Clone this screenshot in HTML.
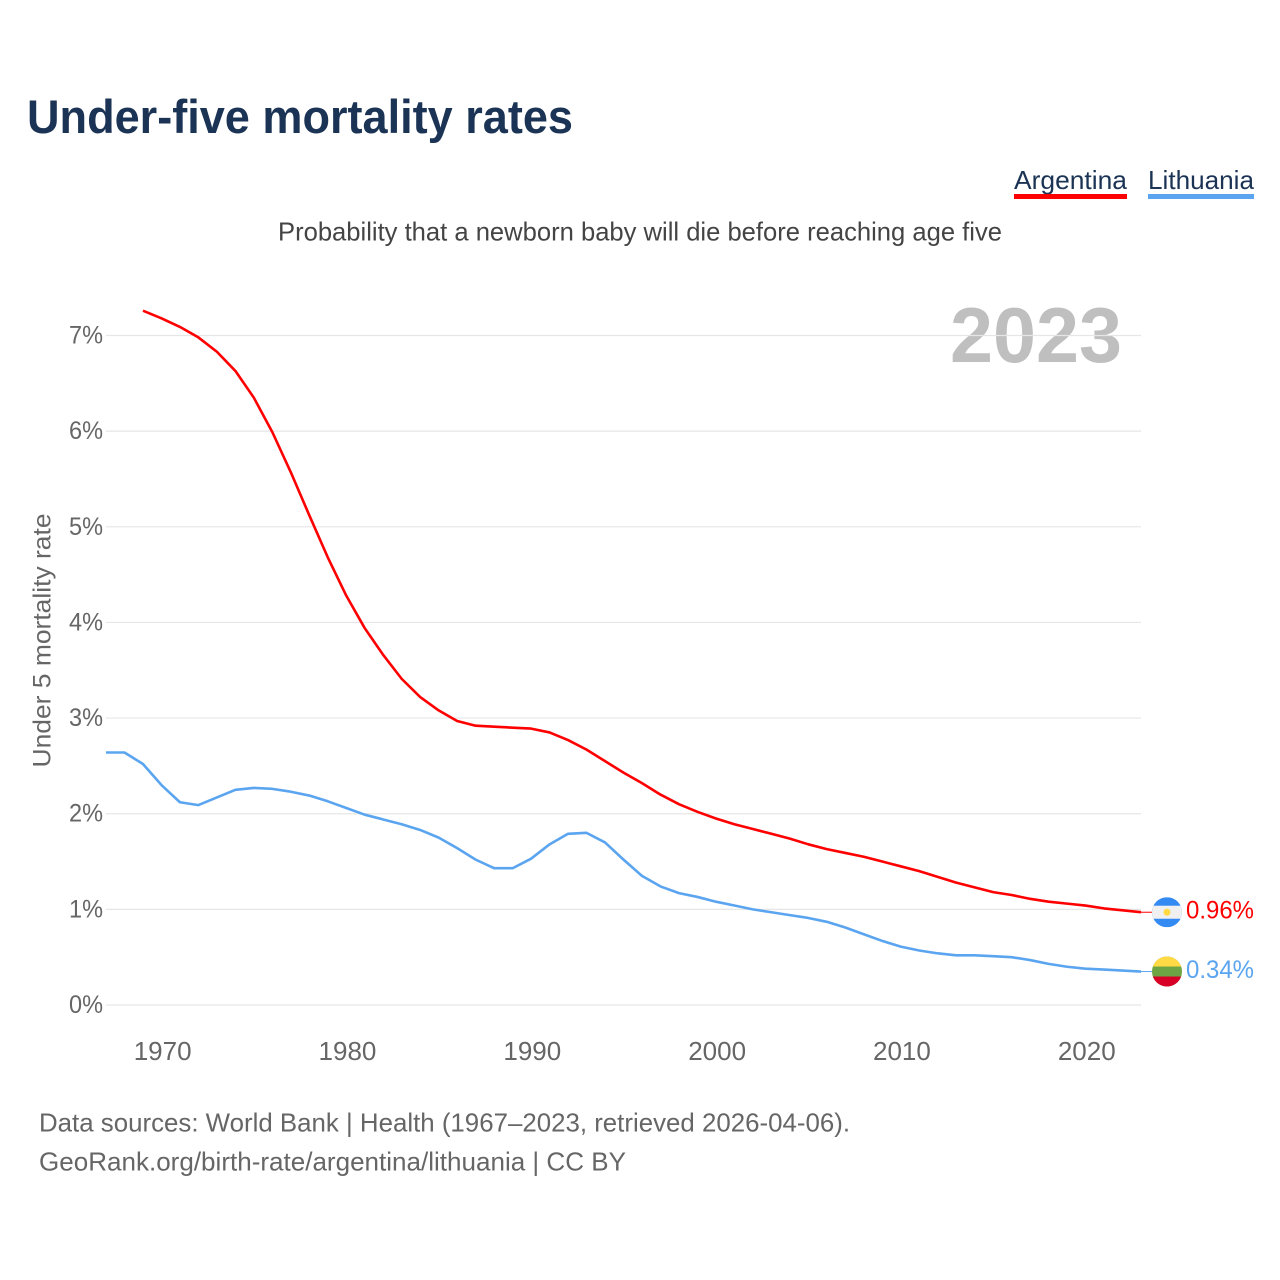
<!DOCTYPE html>
<html lang="en">
<head>
<meta charset="utf-8">
<title>Under-five mortality rates</title>
<style>
html,body{margin:0;padding:0;background:#fff;width:1280px;height:1280px;overflow:hidden}
svg{display:block;font-family:"Liberation Sans",sans-serif}
</style>
</head>
<body>
<svg id="chart" xmlns="http://www.w3.org/2000/svg" width="1280" height="1280" viewBox="0 0 1280 1280">
  <defs>
    <clipPath id="flag-clip-ar"><circle cx="0" cy="0" r="15"/></clipPath>
    <clipPath id="flag-clip-lt"><circle cx="0" cy="0" r="15"/></clipPath>
  </defs>
  <rect x="0" y="0" width="1280" height="1280" fill="#fff"/>
  <text x="27" y="133" font-size="47" font-weight="700" fill="#1b3354" textLength="546" lengthAdjust="spacingAndGlyphs">Under-five mortality rates</text>
  <text x="1014" y="189" font-size="26" fill="#1b3354" textLength="113" lengthAdjust="spacingAndGlyphs">Argentina</text>
  <rect x="1014" y="194" width="113" height="5" fill="#ff0000"/>
  <text x="1148" y="189" font-size="26" fill="#1b3354" textLength="106" lengthAdjust="spacingAndGlyphs">Lithuania</text>
  <rect x="1148" y="194" width="106" height="5" fill="#5ba5f0"/>
  <text x="640" y="240.5" font-size="26" fill="#444" text-anchor="middle" textLength="724" lengthAdjust="spacingAndGlyphs">Probability that a newborn baby will die before reaching age five</text>
  <text x="1122" y="362" font-size="78" font-weight="700" fill="#bfbfbf" text-anchor="end" textLength="172" lengthAdjust="spacingAndGlyphs">2023</text>
  <text transform="translate(50.5 640.5) rotate(-90)" font-size="25" fill="#666" text-anchor="middle" textLength="254" lengthAdjust="spacingAndGlyphs">Under 5 mortality rate</text>
  <g id="grid"></g>
  <g id="yticks"></g>
  <g id="xticks"></g>
  <g id="series"></g>
  <g id="flag-ar">
    <g clip-path="url(#flag-clip-ar)">
      <rect x="-15" y="-15" width="30" height="30" fill="#338af3"/>
      <rect x="-15" y="-6.5" width="30" height="13" fill="#f0f0f0"/>
      <circle cx="0" cy="0" r="3.5" fill="#ffda44"/>
    </g>
  </g>
  <g id="flag-lt">
    <g clip-path="url(#flag-clip-lt)">
      <rect x="-15" y="-15" width="30" height="30" fill="#6da544"/>
      <rect x="-15" y="-15" width="30" height="10" fill="#ffda44"/>
      <rect x="-15" y="5" width="30" height="10" fill="#d80027"/>
    </g>
  </g>
  <text x="39" y="1131.5" font-size="26" fill="#666" textLength="811" lengthAdjust="spacingAndGlyphs">Data sources: World Bank | Health (1967–2023, retrieved 2026-04-06).</text>
  <text x="39" y="1170.5" font-size="26" fill="#666" textLength="587" lengthAdjust="spacingAndGlyphs">GeoRank.org/birth-rate/argentina/lithuania | CC BY</text>
</svg>
<script>
const yTickValues = [0, 1, 2, 3, 4, 5, 6, 7];
const xTickYears = [1970, 1980, 1990, 2000, 2010, 2020];
const argentinaStartYear = 1969;
const argentinaValues = [7.26, 7.18, 7.09, 6.98, 6.83, 6.63, 6.35, 5.99, 5.57, 5.12, 4.68, 4.28, 3.94, 3.66, 3.41, 3.22, 3.08, 2.97, 2.92, 2.91, 2.90, 2.89, 2.85, 2.77, 2.67, 2.55, 2.43, 2.32, 2.20, 2.10, 2.02, 1.95, 1.89, 1.84, 1.79, 1.74, 1.68, 1.63, 1.59, 1.55, 1.50, 1.45, 1.40, 1.34, 1.28, 1.23, 1.18, 1.15, 1.11, 1.08, 1.06, 1.04, 1.01, 0.99, 0.97];
const lithuaniaStartYear = 1967;
const lithuaniaValues = [2.64, 2.64, 2.52, 2.30, 2.12, 2.09, 2.17, 2.25, 2.27, 2.26, 2.23, 2.19, 2.13, 2.06, 1.99, 1.94, 1.89, 1.83, 1.75, 1.64, 1.52, 1.43, 1.43, 1.53, 1.68, 1.79, 1.80, 1.70, 1.52, 1.35, 1.24, 1.17, 1.13, 1.08, 1.04, 1.00, 0.97, 0.94, 0.91, 0.87, 0.81, 0.74, 0.67, 0.61, 0.57, 0.54, 0.52, 0.52, 0.51, 0.50, 0.47, 0.43, 0.40, 0.38, 0.37, 0.36, 0.35];
const argentinaEndLabel = '0.96%';
const lithuaniaEndLabel = '0.34%';

const NS = 'http://www.w3.org/2000/svg';
const xScale = function (year) { return 106 + (year - 1967) * (1141 - 106) / (2023 - 1967); };
const yScale = function (value) { return 1005 - value * 95.64; };

const gridGroup = document.getElementById('grid');
const yTickGroup = document.getElementById('yticks');
const xTickGroup = document.getElementById('xticks');
const seriesGroup = document.getElementById('series');
const svgRoot = document.getElementById('chart');

yTickValues.forEach(function (v) {
  const line = document.createElementNS(NS, 'line');
  
  
  line.setAttribute('x1', 106);
  line.setAttribute('x2', 1141);
  line.setAttribute('y1', yScale(v));
  line.setAttribute('y2', yScale(v));
  line.setAttribute('stroke', '#e6e6e6');
  line.setAttribute('stroke-width', 1.2);
  gridGroup.appendChild(line);

  const label = document.createElementNS(NS, 'text');
  
  
  label.setAttribute('x', 103);
  label.setAttribute('y', yScale(v) + 8);
  label.setAttribute('text-anchor', 'end');
  label.setAttribute('font-size', 25);
  label.setAttribute('fill', '#666');
  label.setAttribute('textLength', 34);
  label.setAttribute('lengthAdjust', 'spacingAndGlyphs');
  label.textContent = v + '%';
  yTickGroup.appendChild(label);
});

xTickYears.forEach(function (yr) {
  const label = document.createElementNS(NS, 'text');
  
  
  label.setAttribute('x', xScale(yr) + 1.2);
  label.setAttribute('y', 1060);
  label.setAttribute('text-anchor', 'middle');
  label.setAttribute('font-size', 26);
  label.setAttribute('fill', '#666');
  label.textContent = String(yr);
  xTickGroup.appendChild(label);
});

function drawSeries(values, startYear, color, lineName, connectorName, labelName, flagId, endLabel) {
  const points = values.map(function (v, i) {
    return xScale(startYear + i).toFixed(2) + ',' + yScale(v).toFixed(2);
  }).join(' ');
  const path = document.createElementNS(NS, 'polyline');
  
  
  path.setAttribute('points', points);
  path.setAttribute('fill', 'none');
  path.setAttribute('stroke', color);
  path.setAttribute('stroke-width', 2.6);
  path.setAttribute('stroke-linejoin', 'round');
  seriesGroup.appendChild(path);

  const last = values[values.length - 1];
  const lastY = yScale(last);
  const connector = document.createElementNS(NS, 'line');
  
  
  connector.setAttribute('x1', 1141);
  connector.setAttribute('x2', 1153);
  connector.setAttribute('y1', lastY);
  connector.setAttribute('y2', lastY);
  connector.setAttribute('stroke', color);
  connector.setAttribute('stroke-width', 1);
  seriesGroup.appendChild(connector);

  document.getElementById(flagId).setAttribute('transform', 'translate(1167 ' + lastY + ')');

  const label = document.createElementNS(NS, 'text');
  
  
  label.setAttribute('x', 1186);
  label.setAttribute('y', lastY + 6.5);
  label.setAttribute('font-size', 25);
  label.setAttribute('fill', color);
  label.setAttribute('textLength', 68);
  label.setAttribute('lengthAdjust', 'spacingAndGlyphs');
  label.textContent = endLabel;
  svgRoot.appendChild(label);
}

drawSeries(lithuaniaValues, lithuaniaStartYear, '#5ba5f0', 'line-lithuania', 'connector-lithuania', 'end-label-lithuania', 'flag-lt', lithuaniaEndLabel);
drawSeries(argentinaValues, argentinaStartYear, '#ff0000', 'line-argentina', 'connector-argentina', 'end-label-argentina', 'flag-ar', argentinaEndLabel);
</script>
</body>
</html>
